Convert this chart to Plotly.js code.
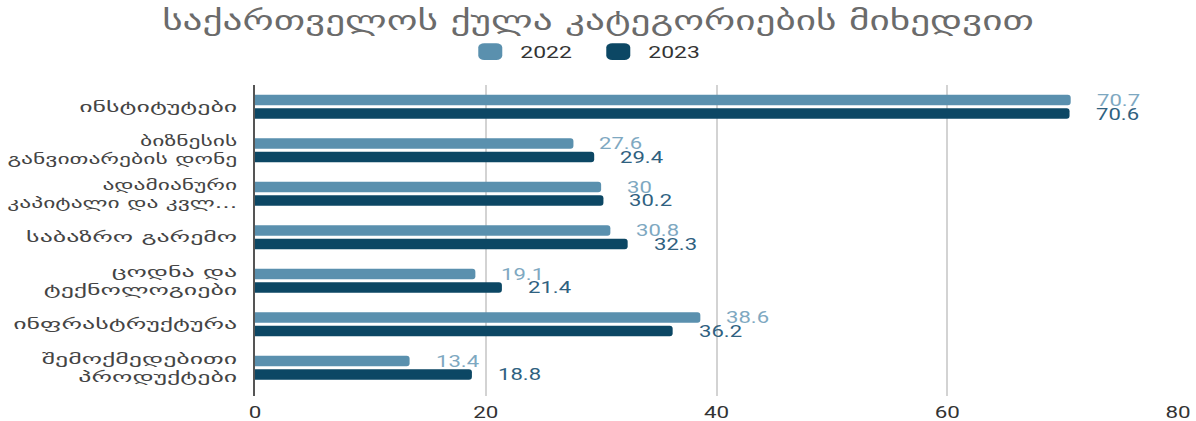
<!DOCTYPE html>
<html>
<head>
<meta charset="utf-8">
<script src="https://cdn.plot.ly/plotly-3.0.1.min.js"></script>
<style>
body { margin: 0; background: #fff; }
#plot { width: 1196px; height: 421px; }
</style>
</head>
<body>
<div id="plot"></div>
<script>
let categories = [
    'ინსტიტუტები',
    'ბიზნესის<br>განვითარების დონე',
    'ადამიანური<br>კაპიტალი და კვლ...',
    'საბაზრო გარემო',
    'ცოდნა და<br>ტექნოლოგიები',
    'ინფრასტრუქტურა',
    'შემოქმედებითი<br>პროდუქტები'
];

let years = ['2022', '2023'];
let values2022 = [70.7, 27.6, 30, 30.8, 19.1, 38.6, 13.4];
let values2023 = [70.6, 29.4, 30.2, 32.3, 21.4, 36.2, 18.8];

let barColors = ['#5a90ae', '#0c4764'];
let labelColors = ['#7ea8c1', '#2f6180'];

function makeTrace(name, values, color) {
    return {
        type: 'bar',
        orientation: 'h',
        name: name,
        x: values,
        y: categories,
        marker: {color: color},
        hoverinfo: 'x'
    };
}

let data = [
    makeTrace(years[0], values2022, barColors[0]),
    makeTrace(years[1], values2023, barColors[1])
];

// value labels sit a bit to the right of each bar
let annotations = [];
let series = [values2022, values2023];
for (let s = 0; s < series.length; s++) {
    for (let i = 0; i < categories.length; i++) {
        annotations.push({
            x: series[s][i],
            y: categories[i],
            text: String(series[s][i]),
            showarrow: false,
            xanchor: 'left',
            xshift: 24,
            yshift: s == 0 ? 6.75 : -6.75,
            font: {family: 'Roboto, sans-serif', size: 17, color: labelColors[s]}
        });
    }
}

let layout = {
    width: 1196,
    height: 421,
    margin: {l: 255, r: 18, t: 85, b: 25},
    paper_bgcolor: '#fff',
    plot_bgcolor: '#fff',
    barmode: 'group',
    bargap: 0.38,
    bargroupgap: 0.22,
    barcornerradius: 3,
    title: {
        text: 'საქართველოს ქულა კატეგორიების მიხედვით',
        x: 0.5,
        xanchor: 'center',
        y: 0.952,
        yanchor: 'middle',
        font: {family: 'DejaVu Sans, sans-serif', size: 28, color: '#6b6b6b'}
    },
    legend: {
        orientation: 'h',
        x: 0.2224,
        xanchor: 'left',
        y: 1.106,
        yanchor: 'middle',
        font: {family: 'Roboto, sans-serif', size: 17, color: '#333'},
        itemwidth: 50,
        entrywidth: 63
    },
    xaxis: {
        range: [0, 80],
        dtick: 20,
        showgrid: true,
        gridcolor: '#d3d3d3',
        gridwidth: 2,
        zeroline: false,
        showline: false,
        ticks: '',
        ticklabelstandoff: 5,
        tickfont: {family: 'Roboto, sans-serif', size: 16, color: '#333'}
    },
    yaxis: {
        range: [6.65, -0.5],
        showline: true,
        linecolor: '#555',
        linewidth: 2,
        showgrid: false,
        ticks: '',
        ticklabelstandoff: 13,
        tickfont: {family: 'DejaVu Sans, sans-serif', size: 14, color: '#444'}
    },
    annotations: annotations,
    showlegend: true
};

// the reference text is drawn wide, so stretch the glyphs sideways
// (maxw keeps the long category names inside the left margin)
function stretch(selector, k, where, maxw) {
    document.querySelectorAll(selector).forEach(el => {
        let b = el.getBBox();
        let kk = k;
        if (maxw && b.width * kk > maxw) kk = maxw / b.width;
        let ox = b.x + b.width / 2;
        if (where == 'left') ox = b.x;
        if (where == 'right') ox = b.x + b.width;
        let t = el.getAttribute('transform') || '';
        el.setAttribute('transform', t + ' translate(' + ox + ',0) scale(' + kk + ',1) translate(' + (-ox) + ',0)');
    });
}

Plotly.newPlot('plot', data, layout, {displayModeBar: false}).then(function () {
    stretch('#plot .gtitle', 1.4, 'middle');
    stretch('#plot .ytick text', 1.85, 'right', 230);
    stretch('#plot .xtick text', 1.4, 'middle');
    stretch('#plot .legendtext', 1.35, 'left');
    stretch('#plot .annotation-text', 1.3, 'left');
    document.querySelectorAll('#plot .legendpoints path').forEach(p => {
        p.setAttribute('transform', (p.getAttribute('transform') || '') + ' scale(2,1.4)');
    });
});
</script>
</body>
</html>
